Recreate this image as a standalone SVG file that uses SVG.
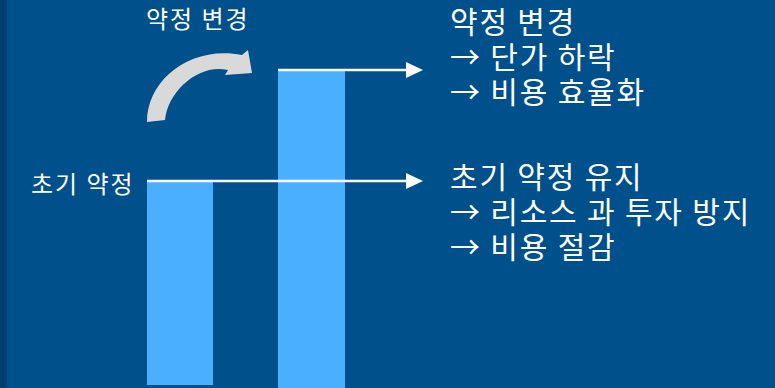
<svg xmlns="http://www.w3.org/2000/svg" width="775" height="388" viewBox="0 0 775 388">
<defs>
<style>
.lbl{font-family:"Noto Sans CJK KR","Noto Sans",sans-serif;fill:#ffffff;}
.s{font-size:24px;letter-spacing:2px;}
.b{font-size:30px;letter-spacing:1.8px;}
.bar{fill:#4bafff;}
.ln{stroke:#ffffff;stroke-width:2.5;fill:none;}
.hd{fill:#ffffff;}
</style>
</defs>
<rect x="0" y="0" width="775" height="388" fill="#00508c"/>
<rect x="0" y="0" width="7" height="388" fill="#033f70"/>
<g id="bar-initial"><rect class="bar" x="147" y="182" width="66" height="203"/></g>
<g id="bar-changed"><rect class="bar" x="278" y="71" width="67" height="317"/></g>
<g id="curved-arrow"><path d="M147,122 C147,80 190,45 242,55 L248,50 L252,73 L225,75 L228,70 C200,63 168,90 165,120 Z" fill="#d9d9d9"/></g>
<g id="label-change"><text class="lbl s" x="146" y="28">약정 변경</text></g>
<g id="label-initial"><text class="lbl s" x="31" y="193">초기 약정</text></g>
<g id="connectors">
<line class="ln" x1="278" y1="70" x2="407" y2="70"/>
<polygon class="hd" points="406,62 423,70 406,78"/>
<line class="ln" x1="147" y1="181" x2="407" y2="181"/>
<polygon class="hd" points="406,173 423,181 406,189"/>
</g>
<g id="text-change">
<text class="lbl b" x="450" y="33">약정 변경</text>
<text class="lbl b" x="450" y="68">→ 단가 하락</text>
<text class="lbl b" x="450" y="103">→ 비용 효율화</text>
</g>
<g id="text-initial">
<text class="lbl b" x="450" y="188">초기 약정 유지</text>
<text class="lbl b" x="450" y="223">→ 리소스 과 투자 방지</text>
<text class="lbl b" x="450" y="258">→ 비용 절감</text>
</g>
</svg>
